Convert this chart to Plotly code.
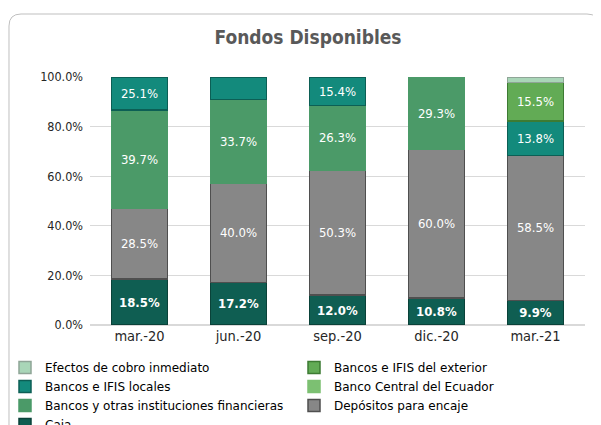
import plotly.graph_objects as go

# ---------------- data ----------------
categories = ["mar.-20", "jun.-20", "sep.-20", "dic.-20", "mar.-21"]

caja = [18.5, 17.2, 12.0, 10.8, 9.9]
depositos_encaje = [28.5, 40.0, 50.3, 60.0, 58.5]
bancos_otras = [39.7, 33.7, 26.3, 29.3, None]
banco_central = [None, None, None, None, None]
bancos_ifis_locales = [25.1, 9.1, 15.4, None, 13.8]
bancos_ifis_exterior = [None, None, None, None, 15.5]
efectos_cobro = [None, None, None, None, 2.3]

series_names = [
    "Caja",
    "Depósitos para encaje",
    "Bancos y otras instituciones financieras",
    "Banco Central del Ecuador",
    "Bancos e IFIS locales",
    "Bancos e IFIS del exterior",
    "Efectos de cobro inmediato",
]
series_values = [caja, depositos_encaje, bancos_otras, banco_central,
                 bancos_ifis_locales, bancos_ifis_exterior, efectos_cobro]

hidden_labels = [("Bancos e IFIS locales", "jun.-20"),
                 ("Efectos de cobro inmediato", "mar.-21")]

y_ticks = [0, 20, 40, 60, 80, 100]
y_max = 100

# ---------------- styles ----------------
fills = {
    "Caja": "#0f5e52",
    "Depósitos para encaje": "#878787",
    "Bancos y otras instituciones financieras": "#4b9a68",
    "Banco Central del Ecuador": "#7cc072",
    "Bancos e IFIS locales": "#138a7c",
    "Bancos e IFIS del exterior": "#62ab55",
    "Efectos de cobro inmediato": "#a9d6b8",
}
edges = {
    "Caja": "#0a4239",
    "Depósitos para encaje": "#4f4f4f",
    "Bancos y otras instituciones financieras": "#4b9a68",
    "Banco Central del Ecuador": "#7cc072",
    "Bancos e IFIS locales": "#0c5f55",
    "Bancos e IFIS del exterior": "#3d7b33",
    "Efectos de cobro inmediato": "#8fa597",
}
FONT = "DejaVu Sans Condensed, DejaVu Sans, sans-serif"
LEG_FONT = "DejaVu Sans, sans-serif"

fig = go.Figure()
cum = [0.0] * len(categories)
for name, vals in zip(series_names, series_values):
    vis, texts = [], []
    for i, v in enumerate(vals):
        if v is None:
            vis.append(None)
            texts.append("")
            continue
        h = max(0.0, min(v, y_max - cum[i]))
        cum[i] += h
        vis.append(h)
        texts.append("" if (name, categories[i]) in hidden_labels else f"{v:.1f}%")
    bold = name == "Caja"
    fig.add_trace(go.Bar(
        name=name, x=categories, y=vis, text=texts,
        textposition="inside", insidetextanchor="middle", textangle=0,
        constraintext="none",
        textfont=dict(family=FONT, size=13, color="white",
                      weight="bold" if bold else "normal"),
        marker=dict(color=fills[name],
                    line=dict(color=edges[name], width=1.5)),
        hoverinfo="skip",
    ))

# geometry: the page adds an 8px body margin, so figure px = page px - 8
OFF = 8
W, H = 601 - OFF, 425 - OFF
L, R, T, B = 90 - OFF, 585 - OFF, 77 - OFF, 325 - OFF
pw, ph = R - L, B - T

def px2paper(x, y):
    return (x - L) / pw, (B - y) / ph

# rounded chart border (figure px)
bl, bt, br, bb, rad = 1, 6, 591, 470, 12
def P(x, y):
    X, Y = px2paper(x, y)
    return f"{X:.5f},{Y:.5f}"
path = (f"M {P(bl+rad, bt)} L {P(br-rad, bt)} Q {P(br, bt)} {P(br, bt+rad)} "
        f"L {P(br, bb-rad)} Q {P(br, bb)} {P(br-rad, bb)} L {P(bl+rad, bb)} "
        f"Q {P(bl, bb)} {P(bl, bb-rad)} L {P(bl, bt+rad)} Q {P(bl, bt)} {P(bl+rad, bt)} Z")

fig.update_layout(
    width=W, height=H,
    margin=dict(l=L, r=W - R, t=T, b=H - B, pad=0, autoexpand=False),
    barmode="stack", bargap=0.434,
    paper_bgcolor="white", plot_bgcolor="white",
    font=dict(family=FONT, size=12, color="#262626"),
    title=dict(text="<b>Fondos Disponibles</b>", x=300 / W, xanchor="center",
               y=1 - 29 / H, yanchor="middle", yref="container",
               font=dict(family=FONT, size=19, color="#595959")),
    showlegend=True,
    legend=dict(orientation="h", traceorder="reversed",
                x=px2paper(-3, 0)[0], xanchor="left",
                y=px2paper(0, 345)[1], yanchor="top",
                entrywidth=244, entrywidthmode="pixels",
                font=dict(family=LEG_FONT, size=12, color="#000000"),
                itemclick=False, itemdoubleclick=False,
                bgcolor="rgba(0,0,0,0)", tracegroupgap=0),
    shapes=[dict(type="path", path=path, xref="paper", yref="paper",
                 line=dict(color="#bfbfbf", width=1), layer="below")],
    xaxis=dict(showgrid=False, showline=False, ticks="", zeroline=False,
               tickfont=dict(family=FONT, size=14.5, color="#262626")),
    yaxis=dict(range=[0, y_max], tickvals=y_ticks,
               ticktext=[f"{v:.1f}%" for v in y_ticks],
               showgrid=True, gridcolor="#d9d9d9", gridwidth=1,
               zeroline=True, zerolinecolor="#d9d9d9", showline=False,
               ticks="", ticklabelstandoff=6,
               tickfont=dict(family=FONT, size=12.5, color="#262626")),
)

fig.write_html("out.html")
